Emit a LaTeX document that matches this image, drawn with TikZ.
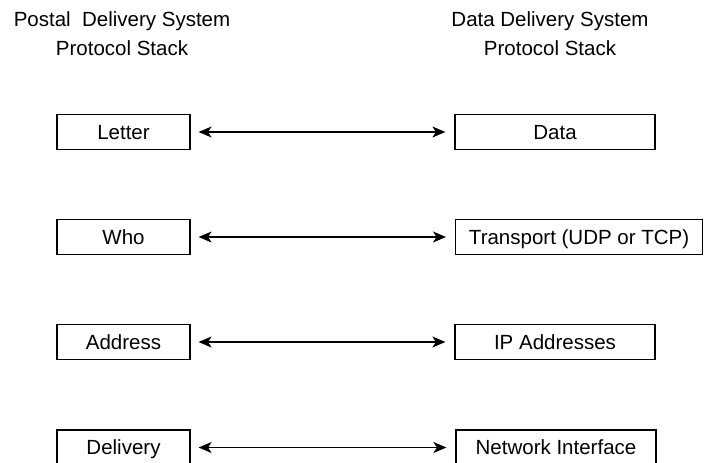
\documentclass[tikz,border=0pt]{standalone}
\usepackage{fontspec}
\setmainfont{Liberation Sans}
\usetikzlibrary{arrows.meta}
\begin{document}
\begin{tikzpicture}[x=1pt,y=-1pt,
  every node/.style={font=\fontsize{20.5}{29}\selectfont},
  layerbox/.style={draw, line width=1.2pt, minimum height=35pt, inner sep=0pt,
    text height=14.7pt, text depth=0pt},
  postal/.style={layerbox, minimum width=133pt},
  datalayer/.style={layerbox, minimum width=200pt},
  link/.style={line width=1.3pt,
    arrows={Stealth[length=13pt,width=11pt,inset=3.5pt]-Stealth[length=13pt,width=11pt,inset=3.5pt]},
    shorten <=8pt, shorten >=9pt}]
  \clip (0,0) rectangle (704,463);
  \fill[white] (0,0) rectangle (704,463);

  % column headings
  \node[align=center] (hl) at (122,34) {Postal\ \ Delivery System\\Protocol Stack};
  \node[align=center] (hr) at (550,34) {Data Delivery System\\Protocol Stack};

  % postal stack
  \node[postal] (l1) at (123.5,132) {Letter};
  \node[postal] (l2) at (123.5,237) {Who};
  \node[postal] (l3) at (123.5,342) {Address};
  \node[postal] (l4) at (123.5,447.5) {Delivery};

  % data stack
  \node[datalayer] (r1) at (555,132) {Data};
  \node[layerbox, minimum width=247pt, anchor=west] (r2) at (455,237) {Transport (UDP or TCP)};
  \node[datalayer] (r3) at (555,342) {IP Addresses};
  \node[datalayer] (r4) at (556,447.5) {Network Interface};

  % correspondences
  \draw[link] (l1.east) -- (r1.west);
  \draw[link] (l2.east) -- (r2.west);
  \draw[link] (l3.east) -- (r3.west);
  \draw[link] (l4.east) -- (r4.west);
\end{tikzpicture}
\end{document}
